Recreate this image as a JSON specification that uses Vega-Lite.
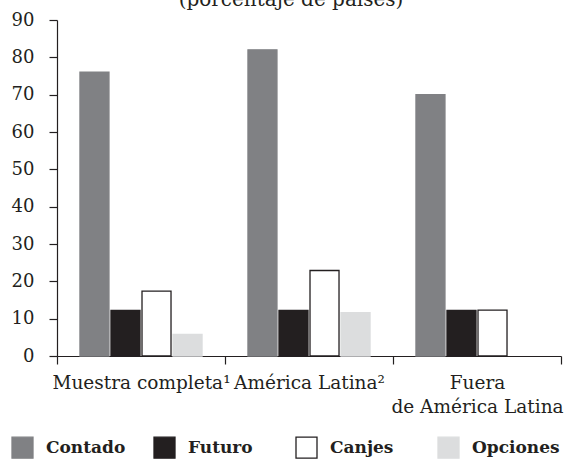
{
  "$schema": "https://vega.github.io/schema/vega-lite/v6.json",
  "width": 504,
  "height": 336,
  "autosize": {"type": "none"},
  "padding": {"left": 57, "top": 20, "right": 4, "bottom": 108},
  "background": "white",
  "title": {
    "text": "(porcentaje de países)",
    "font": "DejaVu Serif",
    "fontSize": 20,
    "fontWeight": "normal",
    "color": "#231f20",
    "anchor": "middle",
    "baseline": "alphabetic",
    "dx": -18,
    "dy": 18,
    "offset": 3
  },
  "data": {
    "values": [
      {"grupo": "Muestra completa¹", "serie": "Contado", "valor": 76},
      {"grupo": "Muestra completa¹", "serie": "Futuro", "valor": 12.2},
      {"grupo": "Muestra completa¹", "serie": "Canjes", "valor": 17.4},
      {"grupo": "Muestra completa¹", "serie": "Opciones", "valor": 5.8},
      {"grupo": "América Latina²", "serie": "Contado", "valor": 82},
      {"grupo": "América Latina²", "serie": "Futuro", "valor": 12.2},
      {"grupo": "América Latina²", "serie": "Canjes", "valor": 22.9},
      {"grupo": "América Latina²", "serie": "Opciones", "valor": 11.6},
      {"grupo": "Fuera|de América Latina", "serie": "Contado", "valor": 70},
      {"grupo": "Fuera|de América Latina", "serie": "Futuro", "valor": 12.2},
      {"grupo": "Fuera|de América Latina", "serie": "Canjes", "valor": 12.3}
    ]
  },
  "mark": {"type": "bar", "strokeWidth": 1.3},
  "encoding": {
    "x": {
      "field": "grupo",
      "type": "nominal",
      "sort": ["Muestra completa¹", "América Latina²", "Fuera|de América Latina"],
      "scale": {"paddingInner": 0, "paddingOuter": 0},
      "axis": {
        "title": null,
        "labelAngle": 0,
        "labelExpr": "split(datum.label, '|')",
        "labelFont": "DejaVu Serif",
        "labelFontSize": 18.5,
        "labelColor": "#231f20",
        "labelLineHeight": 24,
        "labelPadding": 9,
        "labelBaseline": "top",
        "labelLimit": 300,
        "labelOverlap": false,
        "labelBound": false,
        "tickBand": "extent",
        "tickSize": 8,
        "tickColor": "#231f20",
        "tickWidth": 1.2,
        "domainColor": "#231f20",
        "domainWidth": 1.2,
        "grid": false
      }
    },
    "xOffset": {
      "field": "serie",
      "type": "nominal",
      "sort": ["Contado", "Futuro", "Canjes", "Opciones"],
      "scale": {"paddingInner": 0.065, "paddingOuter": 0.74}
    },
    "y": {
      "field": "valor",
      "type": "quantitative",
      "scale": {"domain": [0, 90], "nice": false},
      "axis": {
        "title": null,
        "values": [0, 10, 20, 30, 40, 50, 60, 70, 80, 90],
        "labelFont": "DejaVu Serif",
        "labelFontSize": 18,
        "labelColor": "#231f20",
        "labelPadding": 15,
        "tickSize": 8,
        "tickColor": "#231f20",
        "tickWidth": 1.2,
        "domainColor": "#231f20",
        "domainWidth": 1.2,
        "grid": false
      }
    },
    "fill": {
      "field": "serie",
      "type": "nominal",
      "sort": ["Contado", "Futuro", "Canjes", "Opciones"],
      "scale": {
        "domain": ["Contado", "Futuro", "Canjes", "Opciones"],
        "range": ["#808184", "#231f20", "#ffffff", "#dcddde"]
      },
      "legend": {
        "title": null,
        "orient": "none",
        "legendX": -46,
        "legendY": 416,
        "direction": "horizontal",
        "columns": 4,
        "gridAlign": "all",
        "columnPadding": 17,
        "padding": 0,
        "symbolType": "square",
        "symbolSize": 441,
        "symbolStrokeWidth": 1.3,
        "labelOffset": 12,
        "labelFont": "DejaVu Serif",
        "labelFontSize": 17,
        "labelFontWeight": "bold",
        "labelColor": "#231f20",
        "labelLimit": 200
      }
    },
    "stroke": {
      "field": "serie",
      "type": "nominal",
      "sort": ["Contado", "Futuro", "Canjes", "Opciones"],
      "scale": {
        "domain": ["Contado", "Futuro", "Canjes", "Opciones"],
        "range": ["#808184", "#231f20", "#231f20", "#dcddde"]
      },
      "legend": {
        "title": null,
        "orient": "none",
        "legendX": -46,
        "legendY": 416,
        "direction": "horizontal",
        "columns": 4,
        "gridAlign": "all",
        "columnPadding": 17,
        "padding": 0,
        "symbolType": "square",
        "symbolSize": 441,
        "symbolStrokeWidth": 1.3,
        "labelOffset": 12,
        "labelFont": "DejaVu Serif",
        "labelFontSize": 17,
        "labelFontWeight": "bold",
        "labelColor": "#231f20",
        "labelLimit": 200
      }
    }
  },
  "config": {
    "view": {"stroke": null},
    "font": "DejaVu Serif"
  }
}
